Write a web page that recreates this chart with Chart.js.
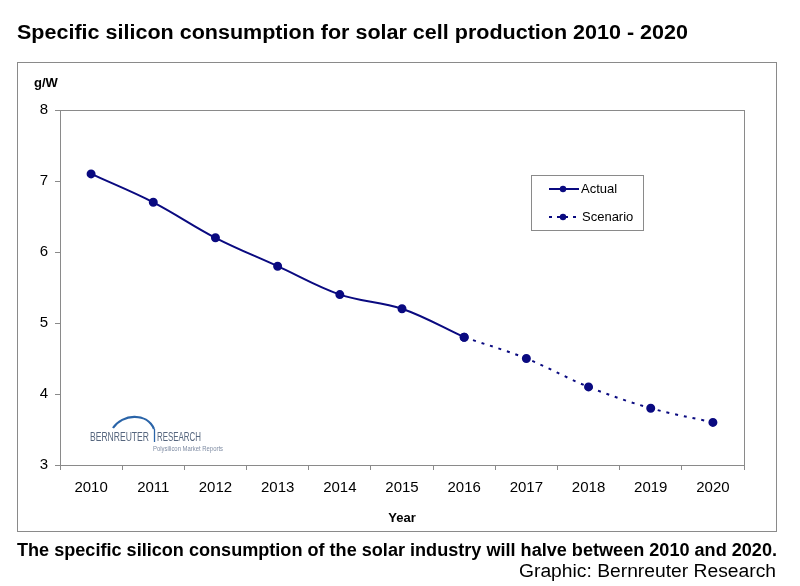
<!DOCTYPE html>
<html>
<head>
<meta charset="utf-8">
<script src="https://cdn.jsdelivr.net/npm/chart.js@4/dist/chart.umd.min.js"></script>
<style>
html,body{margin:0;padding:0;background:#fff;}
canvas{display:block;}
</style>
</head>
<body>
<canvas id="c" width="800" height="586"></canvas>
<script>
const years = ['2010','2011','2012','2013','2014','2015','2016','2017','2018','2019','2020'];
const actual = [7.1, 6.7, 6.2, 5.8, 5.4, 5.2, 4.8, null, null, null, null];
const scenario = [null, null, null, null, null, null, 4.8, 4.5, 4.1, 3.8, 3.6];
const yTicks = [3, 4, 5, 6, 7, 8];

const titleText = 'Specific silicon consumption for solar cell production 2010 - 2020';
const captionText = 'The specific silicon consumption of the solar industry will halve between 2010 and 2020.';
const creditText = 'Graphic: Bernreuter Research';

const NAVY = '#0a0a80';
const FONT = '"Liberation Sans", Arial, Helvetica, sans-serif';

function fitText(ctx, text, x, y, width, font, align) {
  ctx.save();
  ctx.font = font;
  const w = ctx.measureText(text).width;
  const s = width / w;
  ctx.textBaseline = 'alphabetic';
  ctx.textAlign = 'left';
  let x0 = align === 'right' ? x - width : x;
  ctx.translate(x0, y);
  ctx.scale(s, 1);
  ctx.fillText(text, 0, 0);
  ctx.restore();
}

const decor = {
  id: 'decor',
  beforeDraw(chart) {
    const ctx = chart.ctx;
    ctx.save();
    ctx.fillStyle = '#fff';
    ctx.fillRect(0, 0, chart.width, chart.height);
    ctx.restore();
  },
  afterDraw(chart) {
    const ctx = chart.ctx;
    const a = chart.chartArea;
    ctx.save();
    // outer frame
    ctx.strokeStyle = '#8a8a8a';
    ctx.lineWidth = 1;
    ctx.strokeRect(17.5, 62.5, 759, 469);
    // plot frame
    ctx.strokeRect(Math.round(a.left) + 0.5, Math.round(a.top) + 0.5, Math.round(a.right - a.left), Math.round(a.bottom - a.top));

    // title
    ctx.fillStyle = '#000';
    fitText(ctx, titleText, 17, 39, 671, 'bold 20px ' + FONT, 'left');
    // axis titles
    ctx.font = 'bold 13px ' + FONT;
    ctx.textAlign = 'left';
    ctx.textBaseline = 'alphabetic';
    ctx.fillText('g/W', 34, 87);
    ctx.textAlign = 'center';
    ctx.fillText('Year', (a.left + a.right) / 2, 522);
    // caption
    fitText(ctx, captionText, 17, 556, 760, 'bold 18px ' + FONT, 'left');
    fitText(ctx, creditText, 776, 577, 257, '18px ' + FONT, 'right');

    // legend
    ctx.strokeStyle = '#8a8a8a';
    ctx.lineWidth = 1;
    ctx.strokeRect(531.5, 175.5, 112, 55);
    ctx.strokeStyle = NAVY;
    ctx.fillStyle = NAVY;
    ctx.lineWidth = 2;
    ctx.beginPath(); ctx.moveTo(549, 189); ctx.lineTo(579, 189); ctx.stroke();
    ctx.beginPath(); ctx.arc(563, 189, 3.2, 0, Math.PI * 2); ctx.fill();
    ctx.setLineDash([3, 5]);
    ctx.beginPath(); ctx.moveTo(549, 217); ctx.lineTo(579, 217); ctx.stroke();
    ctx.setLineDash([]);
    ctx.beginPath(); ctx.arc(563, 217, 3.2, 0, Math.PI * 2); ctx.fill();
    ctx.fillStyle = '#000';
    ctx.font = '13px ' + FONT;
    ctx.textAlign = 'left';
    ctx.textBaseline = 'middle';
    ctx.fillText('Actual', 581, 189);
    ctx.fillText('Scenario', 582, 217);

    // logo
    ctx.strokeStyle = '#2a64a8';
    ctx.lineWidth = 2.2;
    ctx.beginPath();
    ctx.moveTo(113, 428);
    ctx.bezierCurveTo(122, 414, 147, 412, 154, 429);
    ctx.stroke();
    ctx.lineWidth = 1.3;
    ctx.beginPath(); ctx.moveTo(154.5, 429); ctx.lineTo(154.5, 442); ctx.stroke();
    ctx.fillStyle = '#56667e';
    fitText(ctx, 'BERNREUTER', 90, 441, 59, '13px ' + FONT, 'left');
    fitText(ctx, 'RESEARCH', 157, 441, 44, '13px ' + FONT, 'left');
    ctx.fillStyle = '#7f8ca3';
    fitText(ctx, 'Polysilicon Market Reports', 153, 451, 70, '8px ' + FONT, 'left');
    ctx.restore();
  }
};

new Chart(document.getElementById('c'), {
  type: 'line',
  data: {
    labels: years,
    datasets: [
      {
        label: 'Actual',
        data: actual,
        borderColor: NAVY,
        backgroundColor: NAVY,
        borderWidth: 2,
        pointRadius: 3.5,
        pointHoverRadius: 3.5,
        tension: 0.35,
        fill: false
      },
      {
        label: 'Scenario',
        data: scenario,
        borderColor: NAVY,
        backgroundColor: NAVY,
        borderWidth: 2,
        borderDash: [3, 6],
        pointRadius: 3.5,
        pointHoverRadius: 3.5,
        tension: 0.35,
        fill: false
      }
    ]
  },
  options: {
    responsive: false,
    animation: false,
    devicePixelRatio: 1,
    layout: { padding: { top: 110, right: 56, left: 0, bottom: 0 } },
    plugins: { legend: { display: false }, tooltip: { enabled: false }, title: { display: false } },
    scales: {
      x: {
        type: 'category',
        offset: true,
        grid: { offset: true, drawOnChartArea: false, drawTicks: true, tickLength: 5, color: '#8a8a8a' },
        border: { display: false },
        ticks: { color: '#000', font: { size: 15, family: FONT }, padding: 9, maxRotation: 0, autoSkip: false },
        afterFit(scale) { scale.height = 121; }
      },
      y: {
        min: 3,
        max: 8,
        afterBuildTicks(scale) { scale.ticks = yTicks.map(v => ({ value: v })); },
        grid: { drawOnChartArea: false, drawTicks: true, tickLength: 5, color: '#8a8a8a' },
        border: { display: false },
        ticks: { color: '#000', font: { size: 15, family: FONT }, padding: 7 },
        afterFit(scale) { scale.width = 60; }
      }
    }
  },
  plugins: [decor]
});
</script>
</body>
</html>
